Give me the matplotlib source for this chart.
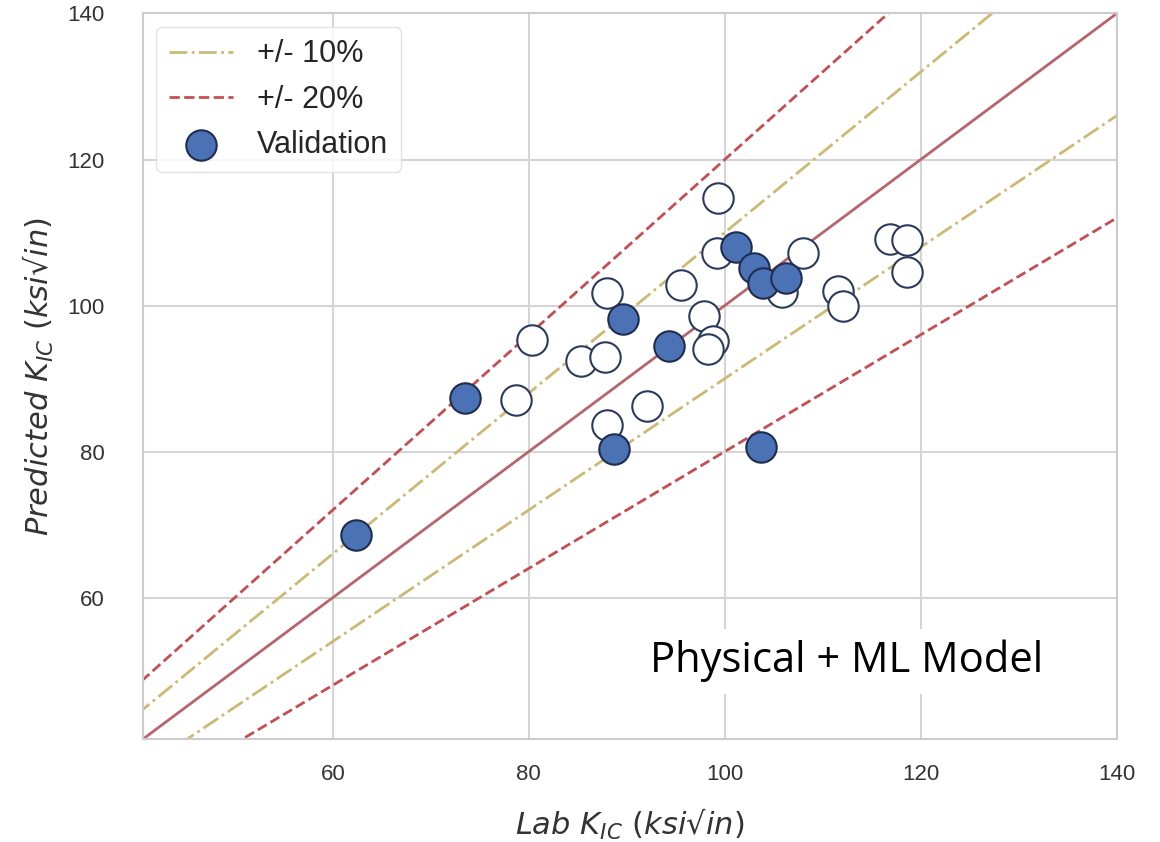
import numpy as np
import matplotlib
matplotlib.use('Agg')
import matplotlib.pyplot as plt
import seaborn as sns

# training points (open circles)
train_lab = [99.3, 99.2, 108.0, 105.8, 88.0, 95.5, 80.3, 97.9, 98.8, 98.3,
             85.3, 87.8, 78.7, 92.1, 88.0, 111.6, 112.1, 116.9, 118.6, 118.6]
train_pred = [114.7, 107.2, 107.2, 101.9, 101.7, 102.8, 95.3, 98.6, 95.1, 94.0,
              92.4, 92.9, 87.1, 86.2, 83.7, 102.0, 100.0, 109.1, 109.0, 104.6]

# validation points (filled)
val_lab = [62.4, 73.5, 88.7, 89.6, 94.3, 101.1, 103.0, 103.9, 106.3, 103.7]
val_pred = [68.6, 87.4, 80.4, 98.1, 94.5, 108.0, 105.1, 103.1, 103.8, 80.6]

lims = [40.6, 140]
ticks = [60, 80, 100, 120, 140]

sns.set_style('whitegrid')
plt.rcParams['font.family'] = ['Liberation Sans', 'DejaVu Sans']
plt.rcParams['mathtext.fontset'] = 'dejavusans'

fig = plt.figure(figsize=(11.6, 8.42), dpi=100)
ax = fig.add_axes([0.123, 0.122, 0.8397, 0.862])

xl = np.array([0, 200])
ax.plot(xl, xl, '-', color='#b8646c', lw=2, zorder=2)
ax.plot(xl, 1.1 * xl, '-.', color='#ccb974', lw=2, label='+/- 10%', zorder=2)
ax.plot(xl, 0.9 * xl, '-.', color='#ccb974', lw=2, zorder=2)
ax.plot(xl, 1.2 * xl, '--', color='#c44e52', lw=2, label='+/- 20%', zorder=2)
ax.plot(xl, 0.8 * xl, '--', color='#c44e52', lw=2, zorder=2)

ax.scatter(train_lab, train_pred, s=480, facecolor='white', edgecolor='#2b3a5c',
           linewidth=1.5, zorder=3)
ax.scatter(val_lab, val_pred, s=480, facecolor='#4a72b5', edgecolor='#1f2d4f',
           linewidth=1.5, label='Validation', zorder=4)

ax.set_xlim(lims)
ax.set_ylim(lims)
ax.set_xticks(ticks)
ax.set_yticks(ticks)
ax.tick_params(labelsize=16, colors='#333333')
ax.tick_params(axis='x', pad=14)
ax.tick_params(axis='y', pad=24)
for sp in ax.spines.values():
    sp.set_color('#cccccc')
    sp.set_linewidth(1.5)
ax.grid(True, color='#d5d5d5', lw=1.5)

ax.set_xlabel(r'$Lab\ K_{IC}\ (ksi√in)$', fontsize=22, color='#333333', labelpad=16)
ax.set_ylabel(r'$Predicted\ K_{IC}\ (ksi√in)$', fontsize=22, color='#333333', labelpad=8)

leg = ax.legend(loc='upper left', fontsize=22, handlelength=2.1, handletextpad=0.8,
                frameon=True, borderaxespad=0.45, borderpad=0.4)
leg.get_frame().set_edgecolor('#dddddd')

ax.text(112.4, 51.3, 'Physical + ML Model', fontsize=30, family='Open Sans',
        ha='center', va='center', color='black', zorder=5,
        bbox=dict(facecolor='white', edgecolor='none', pad=8))

fig.savefig('out.png', dpi=100)
